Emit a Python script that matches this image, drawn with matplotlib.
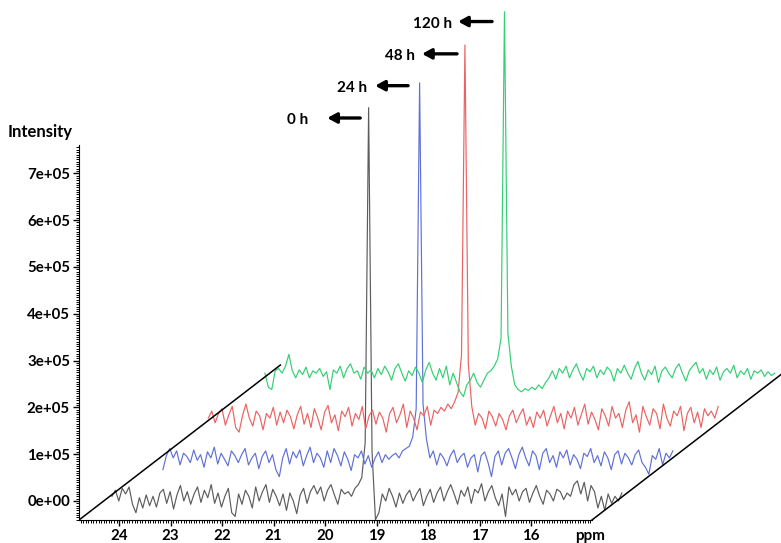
"""Stacked 31P NMR spectra at increasing reaction times (pseudo-3D offset view)."""

import matplotlib.pyplot as plt
import numpy as np
from matplotlib.ticker import FixedLocator, FuncFormatter

plt.rcParams['font.family'] = ['Lato', 'DejaVu Sans']
plt.rcParams['font.weight'] = 'bold'

# chemical shift grid shared by every spectrum (ppm)
ppm = np.linspace(24.14, 14.24, 150)

# intensities in units of 1e5
spec_0h = [
    0.05, 0.18, -0.05, 0.22, 0.10, 0.25, -0.12, -0.30, 0.02, -0.20, 0.08, -0.15, 0.05, -0.18, 0.12,
    0.20, -0.10, 0.15, -0.22, 0.08, 0.28, -0.05, 0.15, -0.12, 0.10, 0.25, -0.08, 0.18, 0.02, 0.30,
    -0.10, 0.12, -0.18, 0.05, 0.22, -0.30, -0.38, 0.10, -0.12, 0.18, 0.05, -0.20, 0.25, -0.05, 0.15,
    0.30, -0.08, 0.20, 0.05, -0.15, 0.10, -0.25, 0.12, -0.05, -0.32, 0.08, 0.22, -0.10, 0.15, 0.28,
    0.10, 0.25, -0.05, 0.18, 0.30, 0.08, -0.12, 0.20, 0.10, 0.15, 0.05, 0.22, 0.30, 0.45, 1.20,
    8.35,
    1.00, -0.45, -0.30, 0.10, -0.05, 0.22, 0.05, -0.18, 0.12, -0.10, 0.08, 0.18, -0.05, 0.10,
    0.22, -0.15, 0.05, 0.20, -0.08, 0.12, 0.25, -0.05, 0.15, 0.30, 0.10, -0.12, 0.18, 0.05, 0.25,
    -0.10, 0.20, 0.12, 0.32, -0.05, 0.15, 0.28, 0.02, -0.15, 0.10, -0.38, 0.25, 0.08, 0.20, -0.05,
    0.15, 0.22, -0.08, 0.12, 0.28, 0.05, -0.12, 0.18, 0.10, -0.05, 0.20, 0.15, -0.02, 0.12, 0.05,
    0.30, 0.38, 0.10, 0.35, -0.05, 0.28, 0.15, -0.20, 0.05, -0.25, 0.10, -0.10, 0.05, -0.05, 0.12,
]
spec_24h = [
    -0.20, 0.10, 0.25, 0.05, 0.20, -0.10, 0.15, 0.08, -0.05, 0.22, 0.00, 0.12, -0.15, 0.18, 0.05,
    0.28, -0.08, 0.15, 0.02, -0.12, 0.20, 0.10, -0.05, 0.12, 0.25, -0.10, 0.05, 0.15, -0.18, 0.08,
    0.20, -0.05, 0.12, -0.20, -0.35, 0.05, 0.25, -0.08, 0.18, 0.05, 0.22, -0.12, 0.10, 0.28, -0.05,
    0.15, 0.05, -0.15, 0.20, -0.05, 0.25, 0.10, -0.12, 0.18, 0.02, -0.22, 0.12, 0.05, 0.20, -0.08,
    0.10, -0.15, 0.05, 0.18, -0.05, 0.12, 0.02, 0.10, 0.15, 0.05, 0.20, 0.25, 0.30, 0.50, 1.10,
    8.06,
    1.20, 0.45, 0.05, 0.20, -0.10, 0.15, 0.05, -0.12, 0.10, 0.22, -0.05, 0.08, 0.15, -0.15,
    0.05, 0.12, -0.25, 0.10, 0.18, -0.05, -0.35, 0.08, 0.20, -0.10, 0.15, 0.25, 0.05, -0.18, 0.12,
    0.28, 0.05, -0.12, 0.20, 0.10, -0.20, 0.15, 0.25, -0.05, 0.10, -0.15, 0.18, 0.05, 0.22, -0.10,
    0.12, 0.02, -0.18, 0.15, 0.08, 0.25, -0.05, 0.10, -0.12, 0.18, 0.05, -0.20, 0.12, 0.20, -0.08,
    0.15, 0.05, -0.10, 0.12, 0.22, -0.05, -0.15, -0.30, 0.10, 0.02, 0.25, -0.10, 0.15, 0.05, 0.20,
]
spec_48h = [
    0.05, 0.20, -0.05, 0.15, 0.25, -0.10, 0.12, 0.30, -0.15, -0.25, 0.10, 0.35, 0.05, -0.12, 0.20,
    0.10, -0.20, 0.15, 0.05, 0.28, -0.10, 0.18, -0.05, 0.22, 0.08, -0.18, 0.12, 0.30, -0.08, 0.15,
    -0.15, 0.25, 0.05, -0.20, 0.18, 0.32, -0.05, 0.12, -0.22, 0.20, 0.08, 0.28, -0.12, 0.15, 0.02,
    0.30, -0.18, 0.10, 0.22, -0.08, 0.18, 0.05, -0.25, 0.15, 0.28, -0.05, 0.12, 0.35, -0.15, 0.20,
    0.05, -0.20, 0.18, 0.10, 0.30, -0.10, 0.22, 0.15, 0.28, 0.20, 0.35, 0.25, 0.40, 0.60, 1.40,
    8.02,
    1.20, 0.30, -0.10, 0.15, 0.05, -0.18, 0.20, 0.08, -0.12, 0.15, 0.02, -0.20, 0.10, 0.22,
    -0.05, 0.12, 0.25, -0.10, 0.08, -0.15, 0.18, 0.05, 0.22, -0.12, 0.10, 0.30, -0.05, 0.15, -0.18,
    0.20, 0.05, 0.28, -0.10, 0.12, 0.35, -0.08, 0.18, 0.02, -0.20, 0.25, 0.10, -0.12, 0.30, 0.05,
    0.15, -0.15, 0.22, 0.40, -0.05, 0.12, -0.25, 0.30, 0.08, -0.10, 0.25, 0.15, -0.18, 0.35, 0.05,
    -0.12, 0.20, 0.10, 0.30, -0.22, 0.15, 0.28, -0.05, 0.18, -0.15, 0.25, 0.10, 0.20, 0.05, 0.30,
]
spec_120h = [
    0.05, -0.25, -0.30, 0.10, 0.15, 0.05, 0.20, 0.45, 0.10, -0.05, 0.12, 0.02, 0.18, -0.05, 0.10,
    0.05, 0.15, -0.02, 0.08, -0.30, 0.12, 0.05, 0.20, -0.05, 0.15, 0.25, 0.05, 0.10, -0.08, 0.18,
    0.05, 0.12, -0.05, 0.15, 0.02, 0.20, 0.08, -0.10, 0.15, 0.25, 0.05, -0.12, 0.10, 0.00, 0.18,
    0.05, -0.15, 0.12, 0.28, 0.05, -0.10, 0.15, -0.05, 0.20, -0.20, 0.05, -0.15, -0.35, -0.45, -0.20,
    -0.10, 0.05, -0.15, -0.25, -0.10, 0.05, 0.10, 0.20, 0.35, 0.80, 7.77, 0.90, 0.20, -0.20, -0.30,
    -0.35, -0.28, -0.32, -0.25, -0.30, -0.20, -0.28, -0.15, -0.05, 0.10, -0.08, 0.15, 0.05, 0.20, -0.05,
    0.12, 0.25, 0.05, -0.10, 0.15, 0.08, 0.20, -0.05, 0.12, 0.02, 0.18, 0.10, -0.12, 0.15, 0.05,
    0.22, 0.05, -0.08, 0.15, 0.30, 0.05, -0.10, 0.12, 0.02, 0.20, -0.15, 0.10, 0.18, 0.05, -0.05,
    0.15, 0.25, 0.05, -0.12, 0.10, 0.20, 0.28, 0.05, 0.15, -0.08, 0.12, 0.02, 0.18, -0.10, 0.08,
    0.15, 0.05, 0.22, -0.05, 0.10, 0.02, 0.15, -0.08, 0.10, 0.05, 0.12, -0.02, 0.08, 0.00, 0.05,
]

spectra = [spec_0h, spec_24h, spec_48h, spec_120h]
labels = ["0 h", "24 h", "48 h", "120 h"]
colors = ["#5c5c5c", "#5f70d6", "#ea6262", "#33cf74"]

# depth offsets of each trace: shift along ppm and up in intensity
shift_ppm = [0.0, 0.99, 1.87, 2.97]
shift_int = [0.05, 0.87, 1.72, 2.68]

# label / arrow placement (ppm, intensity in 1e5)
label_xy = [(20.54, 8.14), (19.48, 8.82), (18.54, 9.51), (17.92, 10.19)]
arrow_tail = [(19.32, 8.18), (18.39, 8.87), (17.44, 9.55), (16.76, 10.24)]
arrow_head = [(19.96, 8.18), (19.03, 8.87), (18.12, 9.55), (17.42, 10.24)]

fig = plt.figure(figsize=(7.81, 5.43), dpi=100)
ax = fig.add_axes([79 / 781, 23 / 543, 702 / 781, 520 / 543])

for spec, col, sx, sy in zip(spectra, colors, shift_ppm, shift_int):
    ax.plot(ppm - sx, (np.array(spec) + sy) * 1e5, color=col, lw=0.85)

for lab, (tx, ty), (ax0, ay0), (ax1, ay1) in zip(labels, label_xy, arrow_tail, arrow_head):
    ax.text(tx, ty * 1e5, lab, ha='center', va='center', fontsize=11, fontweight='bold')
    ax.annotate('', xy=(ax1, ay1 * 1e5), xytext=(ax0, ay0 * 1e5),
                arrowprops=dict(arrowstyle='-|>,head_length=0.55,head_width=0.3',
                                color='black', lw=2.4, shrinkA=0, shrinkB=0))

# floor edges of the stack
x_left, x_right, y_floor = 24.78, 14.82, -0.406
depth = (-3.91, 3.31)
ax.plot([x_left, x_left + depth[0]], [y_floor * 1e5, (y_floor + depth[1]) * 1e5],
        color='black', lw=1.1)
ax.plot([x_right, x_right + depth[0]], [y_floor * 1e5, (y_floor + depth[1]) * 1e5],
        color='black', lw=1.1)

ax.set_xlim(24.78, 11.15)
ax.set_ylim(y_floor * 1e5, 10.70e5)

for s in ['top', 'right']:
    ax.spines[s].set_visible(False)
ax.spines['left'].set_bounds(y_floor * 1e5, 7.61e5)
ax.spines['bottom'].set_bounds(x_left, x_right)

ax.xaxis.set_major_locator(FixedLocator(np.arange(16, 25)))
ax.xaxis.set_minor_locator(FixedLocator(np.arange(14.85, 24.78, 0.05)))
ax.yaxis.set_major_locator(FixedLocator(np.arange(0, 8) * 1e5))
ax.yaxis.set_minor_locator(FixedLocator(np.arange(-0.4, 7.6, 0.05) * 1e5))
ax.xaxis.set_major_formatter(FuncFormatter(lambda v, p: f"{v:.0f}"))
ax.yaxis.set_major_formatter(FuncFormatter(lambda v, p: f"{v:.0e}"))

ax.tick_params(which='major', length=4, width=1, labelsize=10.8, pad=2.5)
ax.tick_params(which='minor', length=2, width=0.7)
for lab in ax.get_xticklabels() + ax.get_yticklabels():
    lab.set_fontweight('bold')

fig.text(8 / 781, 1 - 132 / 543, "Intensity", ha='left', va='center',
         fontsize=12, fontweight='bold')
fig.text(590 / 781, 1 - 536 / 543, "ppm", ha='center', va='center',
         fontsize=11, fontweight='bold')

fig.savefig("out.png", dpi=100)
